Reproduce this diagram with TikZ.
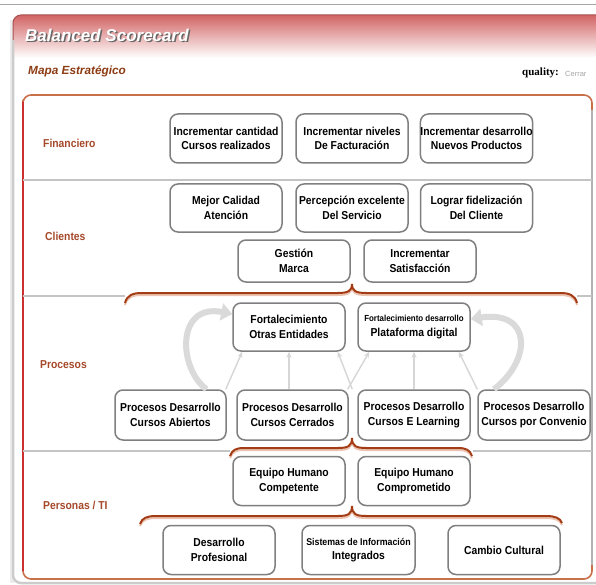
\documentclass[tikz,border=0pt]{standalone}
\usepackage{fontspec}
\setmainfont{Liberation Sans}
\newfontfamily\bsf[FakeStretch=0.9]{Liberation Sans}
\newfontfamily\serf{Liberation Serif}
\usetikzlibrary{arrows.meta,calc}
\definecolor{boxgray}{HTML}{7F7F7F}
\definecolor{lbl}{HTML}{A5492A}
\definecolor{mapa}{HTML}{8C3B12}
\definecolor{bracec}{HTML}{A33C14}
\definecolor{braceshadow}{HTML}{EBC3B0}
\definecolor{innertop}{HTML}{C8704A}
\definecolor{innerleft}{HTML}{CC3030}
\definecolor{sepgray}{HTML}{C4C4C4}
\definecolor{hdr}{HTML}{D26464}
\definecolor{arrgray}{HTML}{D6D6D6}
\definecolor{bigarr}{HTML}{DADADA}
\begin{document}
\begin{tikzpicture}[x=1pt,y=-1pt,
  obj/.style={draw=boxgray, line width=1.5pt, rounded corners=8pt, fill=white,
    align=center, inner sep=0pt, minimum width=112pt, minimum height=49pt,
    font=\bsf\bfseries\fontsize{11.5}{14.5}\selectfont},
  lane/.style={anchor=west, inner sep=0pt, text=lbl,
    font=\bsf\bfseries\fontsize{11.5}{12}\selectfont},
  thinarr/.style={draw=arrgray, line width=1.4pt, -{Stealth[length=6pt,width=5pt]}},
  bigarrow/.style={draw=bigarr, line width=6pt, -{Triangle[length=11pt,width=17pt]}},
  bracestyle/.style={draw=bracec, line width=2pt},
  braceshade/.style={draw=braceshadow, line width=2pt},
  sep/.style={draw=sepgray, line width=1.3pt}]
\useasboundingbox (0,0) rectangle (596,585);
% top rule
\draw[draw=gray!70, line width=0.8pt] (0,4) -- (596,4);
% outer panel
\fill[gray!15] (10,20) rectangle (14,583);
\begin{scope}
  \clip[rounded corners=8pt] (13,15) rectangle (620,583);
  \fill[white] (13,15) rectangle (620,583);
  \shade[top color=hdr, bottom color=white] (13,15) rectangle (620,58);
\end{scope}
\draw[draw=gray!40, line width=2.5pt, rounded corners=8pt] (13,40) -- (13,583) -- (620,583);
\draw[draw=hdr!80!black, line width=1pt, rounded corners=8pt] (13,40) -- (13,15) -- (620,15);
% title
\node[anchor=west, inner sep=0pt, text=gray!80!black,
  font=\bfseries\itshape\fontsize{17}{18}\selectfont] (titleshadow) at (26.5,36.5) {Balanced Scorecard};
\node[anchor=west, inner sep=0pt, text=white,
  font=\bfseries\itshape\fontsize{17}{18}\selectfont] (title) at (25,35) {Balanced Scorecard};
\node[anchor=west, inner sep=0pt, text=mapa,
  font=\bfseries\itshape\fontsize{11.8}{13}\selectfont] (mapa) at (28,71) {Mapa Estratégico};
\node[anchor=west, inner sep=0pt, font=\serf\bfseries\fontsize{11}{12}\selectfont] (quality) at (522,73) {quality:};
\node[anchor=west, inner sep=0pt, text=gray!70, font=\fontsize{7.5}{8}\selectfont] (cerrar) at (565,73.5) {Cerrar};
% inner box
\draw[draw=innertop, line width=1.6pt, rounded corners=8pt] (23,100) -- (23,95) -- (592,95) -- (592,579) -- (23,579) -- (23,570);
\draw[draw=gray!60, line width=1.2pt] (592,110) -- (592,565);
\draw[draw=innerleft, line width=1.6pt] (23,102) -- (23,571);
% separators
\draw[sep] (23,180) -- (592,180);
\draw[sep] (23,296) -- (125,296);
\draw[sep] (577,296) -- (592,296);
\draw[sep] (23,451) -- (230,451);
\draw[sep] (473,451) -- (592,451);
% lane labels
\node[lane] (lf) at (43,143) {Financiero};
\node[lane] (lc) at (45,236) {Clientes};
\node[lane] (lp) at (40,365) {Procesos};
\node[lane] (lt) at (43,505) {Personas / TI};
% braces
\foreach \dy/\st in {2/braceshade,0/bracestyle}{
  \begin{scope}[yshift=-\dy pt]
  \draw[\st] (125,303) .. controls (127,295) and (133,293) .. (142,293) -- (338,293)
    .. controls (348,293) and (352,291) .. (352,284)
    .. controls (352,291) and (356,293) .. (366,293) -- (560,293)
    .. controls (569,293) and (575,295) .. (577,303);
  \draw[\st] (230,456) .. controls (232,450) and (236,448) .. (244,448) -- (338,448)
    .. controls (348,448) and (352,446) .. (352,438)
    .. controls (352,446) and (356,448) .. (366,448) -- (458,448)
    .. controls (466,448) and (470,450) .. (472,456);
  \draw[\st] (140,524) .. controls (142,518) and (147,516) .. (156,516) -- (338,516)
    .. controls (348,516) and (352,514) .. (352,506)
    .. controls (352,514) and (356,516) .. (366,516) -- (546,516)
    .. controls (555,516) and (560,518) .. (562,523);
  \end{scope}}
% Financiero
\node[obj] (B1) at (226,138.5) {Incrementar cantidad\\Cursos realizados};
\node[obj] (B2) at (352,138.5) {Incrementar niveles\\De Facturación};
\node[obj] (B3) at (476.5,138.5) {Incrementar desarrollo\\Nuevos Productos};
% Clientes
\node[obj, minimum height=48pt] (C1) at (226,208) {Mejor Calidad\\Atención};
\node[obj, minimum height=48pt] (C2) at (352,208) {Percepción excelente\\Del Servicio};
\node[obj, minimum height=48pt] (C3) at (476.5,208) {Lograr fidelización\\Del Cliente};
\node[obj, minimum height=42pt] (C4) at (294,261) {Gestión\\Marca};
\node[obj, minimum height=42pt] (C5) at (420,261) {Incrementar\\Satisfacción};
% Procesos
\node[obj, minimum height=48pt] (P1) at (289,327) {Fortalecimiento\\Otras Entidades};
\node[obj, minimum height=48pt] (P2) at (414,327) {{\fontsize{8.8}{10}\selectfont Fortalecimiento desarrollo}\\Plataforma digital};
\node[obj, minimum width=111pt, minimum height=50pt] (P3) at (170.5,415) {Procesos Desarrollo\\Cursos Abiertos};
\node[obj, minimum width=111pt, minimum height=50pt] (P4) at (292.5,415) {Procesos Desarrollo\\Cursos Cerrados};
\node[obj, minimum height=50pt] (P5) at (414,415) {Procesos Desarrollo\\Cursos E Learning};
\node[obj, minimum height=50pt] (P6) at (534,415) {Procesos Desarrollo\\Cursos por Convenio};
% Personas
\node[obj] (E1) at (289,481) {Equipo Humano\\Competente};
\node[obj] (E2) at (414,481) {Equipo Humano\\Comprometido};
\node[obj] (D1) at (219,550) {Desarrollo\\Profesional};
\node[obj, minimum width=113pt] (D2) at (358.5,550) {{\fontsize{9.8}{11}\selectfont Sistemas de Información}\\Integrados};
\node[obj] (D3) at (504,550) {Cambio Cultural};
% thin arrows
\draw[thinarr] ([xshift=-1pt]P3.north east) -- ([xshift=10pt]P1.south west);
\draw[thinarr] (P1.south |- P4.north) -- (P1.south);
\draw[thinarr] ([xshift=-5pt]P5.north west) -- ([xshift=-8pt]P1.south east);
\draw[thinarr] ([xshift=-1pt]P4.north east) -- ([xshift=12pt]P2.south west);
\draw[thinarr] (P5.north) -- (P2.south);
\draw[thinarr] (P6.north west) -- ([xshift=-12pt]P2.south east);
% big curved arrows
\draw[bigarrow] ([xshift=36pt]P3.north) .. controls (178,368) and (176,303) .. ([yshift=13pt]P1.west);
\draw[bigarrow] ([xshift=-40pt]P6.north) .. controls (532,360) and (532,310) .. ([yshift=8pt]P2.east);
\end{tikzpicture}
\end{document}
